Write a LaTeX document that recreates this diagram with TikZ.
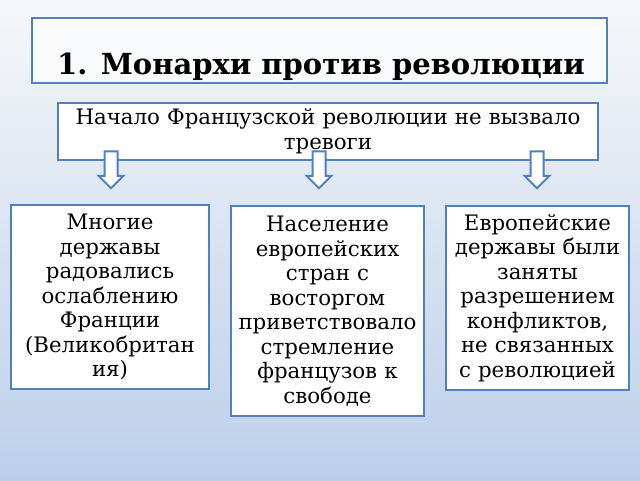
\documentclass[tikz,border=0pt]{standalone}
\usepackage{fontspec}
\setmainfont{DejaVu Serif}
\usetikzlibrary{shapes.arrows}
\definecolor{bl}{RGB}{79,129,189}
\definecolor{bgtop}{RGB}{246,247,249}
\definecolor{bgbot}{RGB}{188,207,233}
\begin{document}
\begin{tikzpicture}[x=1pt,y=-1pt,
  box/.style={draw=bl,line width=2.4pt,fill=white,inner sep=2pt,align=center,font=\fontsize{21.3}{24.5}\selectfont},
  darrow/.style={single arrow,draw=bl,line width=2pt,fill=white,shape border rotate=270,minimum height=37pt,minimum width=24pt,single arrow head extend=6pt,inner sep=1pt,text width=9pt}]
\shade[top color=bgtop,bottom color=bgbot] (0,0) rectangle (640,480);
\useasboundingbox (0,0) rectangle (640,480);
\node[box,fill=white!96!bl,minimum width=575pt,minimum height=65pt] (title) at (319.5,50.5) {};
\node[font=\fontsize{29}{31}\bfseries\selectfont,anchor=base] (tt) at (321,74) {1. Монархи против революции};
\node[box,minimum width=540pt,minimum height=57pt,text width=536pt] (start) at (328,131.5) {Начало Французской революции не вызвало\\тревоги};
\node[darrow] (a1) at (111,166.5) {};
\node[darrow] (a2) at (319,166.5) {};
\node[darrow] (a3) at (537,166.5) {};
\node[box,minimum width=196pt,minimum height=184pt,text width=194pt] (b1) at (110,297) {Многие\\державы\\радовались\\ослаблению\\Франции\\(Великобритан\\ия)};
\node[box,minimum width=191pt,minimum height=210pt,text width=189pt] (b2) at (327.5,311) {Население\\европейских\\стран с\\восторгом\\приветствовало\\стремление\\французов к\\свободе};
\node[box,minimum width=181pt,minimum height=184pt,text width=179pt] (b3) at (537.5,298) {Европейские\\державы были\\заняты\\разрешением\\конфликтов,\\не связанных\\с революцией};
\end{tikzpicture}
\end{document}
